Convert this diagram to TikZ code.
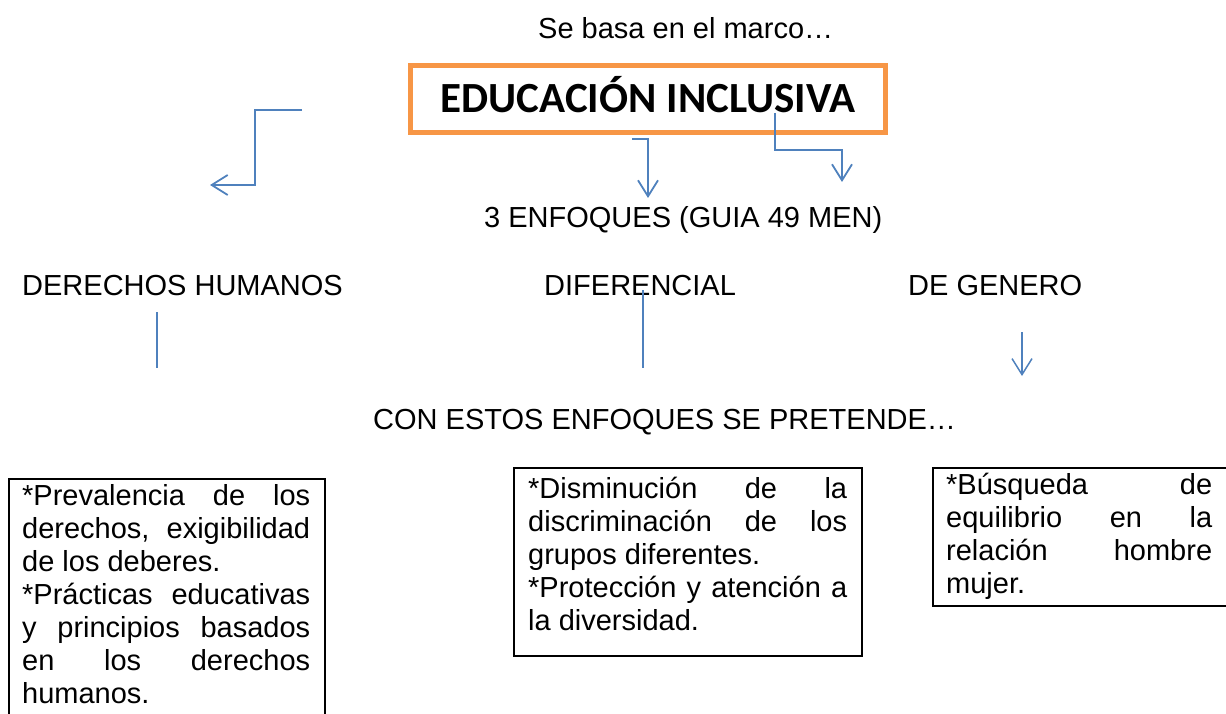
\documentclass[tikz,border=0pt]{standalone}
\usepackage{fontspec}
\setmainfont{Liberation Sans}
\newfontfamily\carlito{Carlito}
\usetikzlibrary{calc}
\usetikzlibrary{arrows.meta}
\definecolor{naranja}{RGB}{247,150,70}
\definecolor{azul}{RGB}{79,129,189}
% justified line and last line of a paragraph
\newcommand{\jl}[2]{\makebox[#1][s]{#2}\strut}
\newcommand{\fl}[1]{#1\strut}

\begin{document}
\begin{tikzpicture}[x=1pt,y=-1pt,
    textonode/.style={inner sep=0pt, anchor=base west, font=\fontsize{29}{33}\selectfont},
    titulonode/.style={rectangle, draw=naranja, line width=5pt, minimum width=475pt, minimum height=67pt,
        font=\carlito\bfseries\fontsize{43}{51}\selectfont, text height=28pt, text depth=0pt},
    cajanode/.style={rectangle, draw=black, line width=1.6pt, anchor=north west},
    parrafonode/.style={inner sep=0pt, anchor=north west, align=left, font=\fontsize{29}{33}\selectfont},
    flecha/.style={draw=azul, line width=1.8pt, -{Straight Barb[length=16pt,width=20pt]}},
    linea/.style={draw=azul, line width=1.5pt}
    ]
  \clip (0,0) rectangle (1226,714);
  % nodes
  \node[textonode] (Marco) at (538,39) {Se basa en el marco…};
  \node[titulonode] (EduInc) at (648,99) {EDUCACIÓN INCLUSIVA};
  \node[textonode] (Enfoques) at (484,228) {3 ENFOQUES (GUIA 49 MEN)};
  \node[textonode] (DerHum) at (22,295) {DERECHOS HUMANOS};
  \node[textonode] (Difer) at (544,295) {DIFERENCIAL};
  \node[textonode] (Genero) at (908,295) {DE GENERO};
  \node[textonode] (Pretende) at (373,429) {CON ESTOS ENFOQUES SE PRETENDE…};
  % boxes
  \node[cajanode, minimum width=316pt, minimum height=260pt] (CajaDH) at (8,478) {};
  \node[cajanode, minimum width=348pt, minimum height=188pt] (CajaDif) at (513,467) {};
  \node[cajanode, minimum width=320pt, minimum height=138pt] (CajaGen) at (932,467) {};
  \node[parrafonode] (TextoDH) at ($(CajaDH.north west)+(14,4)$) {%
    \jl{288pt}{*Prevalencia de los}\\
    \jl{288pt}{derechos, exigibilidad}\\
    \fl{de los deberes.}\\
    \jl{288pt}{*Prácticas educativas}\\
    \jl{288pt}{y principios basados}\\
    \jl{288pt}{en los derechos}\\
    \fl{humanos.}};
  \node[parrafonode] (TextoDif) at ($(CajaDif.north west)+(15,8)$) {%
    \jl{319pt}{*Disminución de la}\\
    \jl{319pt}{discriminación de los}\\
    \fl{grupos diferentes.}\\
    \jl{319pt}{*Protección y atención a}\\
    \fl{la diversidad.}};
  \node[parrafonode] (TextoGen) at ($(CajaGen.north west)+(14,4)$) {%
    \jl{266pt}{*Búsqueda de}\\
    \jl{266pt}{equilibrio en la}\\
    \jl{266pt}{relación hombre}\\
    \fl{mujer.}};
  % free ends
  \coordinate (a1) at ($(EduInc.west)+(-106,11)$);
  \coordinate (a2) at ($(EduInc.south)+(-16,4)$);
  \coordinate (a3) at ($(EduInc.south)+(127,-22)$);
  \coordinate (l1) at ($(DerHum.base west)+(135,17)$);
  \coordinate (l2) at ($(Difer.base west)+(99,-5)$);
  \coordinate (l3) at ($(Genero.base west)+(114,37)$);
  % arrows
  \draw[flecha] (a1) -- ++(-47,0) -- ++(0,75) -- ++(-45,0);
  \draw[flecha] (a2) -- ++(16,0) -- ++(0,59);
  \draw[flecha] (a3) -- ++(0,37) -- ++(67,0) -- ++(0,32);
  \draw[linea] (l1) -- ++(0,56);
  \draw[linea] (l2) -- ++(0,78);
  \draw[flecha, line width=1.5pt] (l3) -- ++(0,44);
\end{tikzpicture}
\end{document}
